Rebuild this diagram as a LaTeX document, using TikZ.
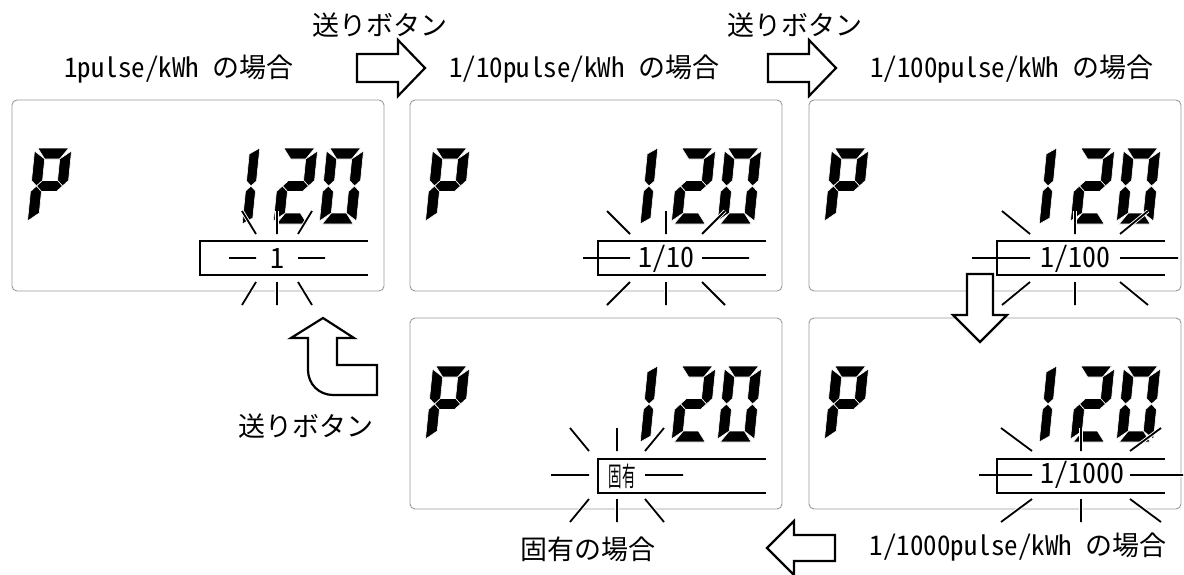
\documentclass[tikz,border=0pt]{standalone}
\usepackage{fontspec}
\setmainfont{Noto Sans CJK JP}
\newfontfamily\hwfont{Noto Sans CJK JP}[RawFeature=+hwid]
\usepackage{tikz}
\usepackage{graphicx}

% segments of a seven segment digit, origin at the middle of its left edge
\newcommand{\segA}{(3,-38) -- (34,-38) -- (26,-27) -- (11,-27) -- cycle}
\newcommand{\segB}{(37,-35) -- (37,-5.5) -- (31.5,0) -- (26,-5.5) -- (26,-27) -- cycle}
\newcommand{\segC}{(37,5.5) -- (37,35) -- (26,27) -- (26,5.5) -- (31.5,0) -- cycle}
\newcommand{\segD}{(11,27) -- (26,27) -- (34,38) -- (3,38) -- cycle}
\newcommand{\segE}{(0,5.5) -- (5.5,0) -- (11,5.5) -- (11,27) -- (0,35) -- cycle}
\newcommand{\segF}{(0,-35) -- (11,-27) -- (11,-5.5) -- (5.5,0) -- (0,-5.5) -- cycle}
\newcommand{\segG}{(5.5,0) -- (11,-5.5) -- (26,-5.5) -- (31.5,0) -- (26,5.5) -- (11,5.5) -- cycle}
\newcommand{\segOneUp}{(0,-32) -- (10,-38) -- (10,-5) -- (5,0) -- (0,-5) -- cycle}
\newcommand{\segOneDown}{(0,5) -- (5,0) -- (10,5) -- (10,32) -- (0,38) -- cycle}

\newcommand{\lcddigit}[3]{%
	\begin{scope}[shift={(#1,#2)}, xslant=0.1]
		\foreach \s in {#3} {\path[lcdseg] \s;}
	\end{scope}}

% blinking marks: centre x, centre y, inner, outer horizontal, outer diagonal
\newcommand{\lcdblink}[5]{%
	\draw[blink] (#1-#4,#2) -- (#1-#3,#2) (#1+#3,#2) -- (#1+#4,#2)
	(#1,#2-47) -- (#1,#2-24) (#1,#2+24) -- (#1,#2+47)
	(#1-#5,#2-47) -- (#1-#3,#2-24) (#1+#3,#2-24) -- (#1+#5,#2-47)
	(#1-#3,#2+24) -- (#1-#5,#2+47) (#1+#3,#2+24) -- (#1+#5,#2+47);}

\begin{document}
\begin{tikzpicture}[x=1pt, y=-1pt,
	every node/.style={font=\fontsize{27}{32}\selectfont, inner sep=0pt},
	lcdseg/.style={fill=black, draw=white, line width=0.6pt},
	lcdframe/.style={draw=black!40, line width=0.9pt, rounded corners=5pt},
	lcdbox/.style={draw=black, line width=1.3pt},
	blink/.style={line width=1.8pt, preaction={draw=white, line width=3.6pt}},
	blockarrow/.style={draw=black, fill=white, line width=2.2pt, line join=miter}]
	
	\useasboundingbox (0,0) rectangle (1184,574);
	
	% panels
	\foreach \px/\py/\cx/\cy/\w/\h/\d in {12/100/277/258/21/48/35, 410/100/666/258/36/83/59,
		809/100/1075/258/45/103/73, 410/318/617/475/28/66/47, 809/318/1081/475/49/102/80} {
		\draw[lcdframe] (\px,\py) rectangle ++(372,191);
		\lcddigit{\px+19}{\py+86}{\segA,\segB,\segF,\segG,\segE}
		\lcddigit{\px+234}{\py+86}{\segOneUp,\segOneDown}
		\lcddigit{\px+265}{\py+86}{\segA,\segB,\segG,\segE,\segD}
		\lcddigit{\px+311}{\py+86}{\segA,\segB,\segC,\segD,\segE,\segF}
		\lcdblink{\cx}{\cy}{\w}{\h}{\d}
		\draw[lcdbox] (\px+356,\py+141) -- (\px+188,\py+141) -- (\px+188,\py+175) -- (\px+356,\py+175);
	}
	
	\node[font=\fontsize{28}{32}\selectfont\hwfont] (val1) at (277,258) {1};
	\node[font=\fontsize{28}{32}\selectfont\hwfont] (val10) at (666,259) {1/10};
	\node[font=\fontsize{28}{32}\selectfont\hwfont] (val100) at (1075,259) {1/100};
	\node[font=\fontsize{28}{32}\selectfont\hwfont] (val1000) at (1082,475) {1/1000};
	\node (valfix) at (622,476) {\scalebox{0.5}[1]{固有}};
	
	% labels
	\node (lab1) at (179,69) {{\hwfont 1pulse/kWh }の場合};
	\node (lab10) at (584,69) {{\hwfont 1/10pulse/kWh }の場合};
	\node (lab100) at (1012,69) {{\hwfont 1/100pulse/kWh }の場合};
	\node (lab1000) at (1018,547) {{\hwfont 1/1000pulse/kWh }の場合};
	\node (labfix) at (588,549) {固有の場合};
	\node (btn1) at (380,25) {送りボタン};
	\node (btn2) at (795,25) {送りボタン};
	\node (btn3) at (306,426) {送りボタン};
	
	% arrows
	\draw[blockarrow] (357,54) -- (398,54) -- (398,40) -- (425,68) -- (398,96) -- (398,82) -- (357,82) -- cycle;
	\draw[blockarrow] (768,54) -- (809,54) -- (809,40) -- (836,68) -- (809,96) -- (809,82) -- (768,82) -- cycle;
	\draw[blockarrow] (967,274) -- (993,274) -- (993,315) -- (1007,315) -- (980,342) -- (953,315) -- (967,315) -- cycle;
	\draw[blockarrow] (835,535) -- (794,535) -- (794,521) -- (767,548) -- (794,575) -- (794,561) -- (835,561) -- cycle;
	\draw[blockarrow] (323,318) -- (354,338) -- (337,338) -- (337,365) -- (377,365) -- (377,395) -- (333,395)
		.. controls (319,395) and (308,384) .. (308,370) -- (308,338) -- (291,338) -- cycle;
\end{tikzpicture}
\end{document}
